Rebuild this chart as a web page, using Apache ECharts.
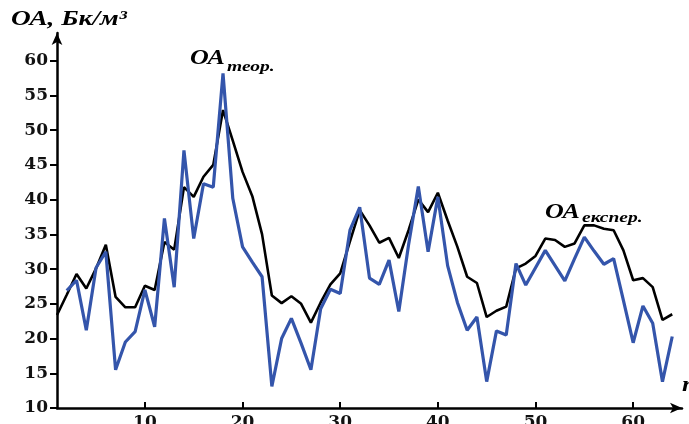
<!DOCTYPE html>
<html>
<head>
<meta charset="utf-8">
<script src="https://cdn.jsdelivr.net/npm/echarts@6/dist/echarts.min.js"></script>
<style>
html, body { margin: 0; padding: 0; background: #fff; }
#chart { width: 689px; height: 424px; }
</style>
</head>
<body>
<div id="chart"></div>
<script>
// номер вимірювання 1..64
const nums = Array.from({ length: 64 }, (_, i) => i + 1);

// чорна крива
const oaBlack = [23.4, 26.3, 29.3, 27.2, 30.1, 33.5, 26.0, 24.5, 24.5, 27.6,
  27.0, 33.9, 32.8, 41.8, 40.4, 43.3, 45.0, 52.9, 48.5, 44.0,
  40.5, 35.0, 26.2, 25.1, 26.1, 25.0, 22.3, 25.2, 27.8, 29.4,
  34.0, 38.5, 36.3, 33.8, 34.5, 31.6, 35.6, 40.0, 38.2, 41.0,
  37.0, 33.2, 28.9, 28.0, 23.1, 24.0, 24.6, 30.1, 30.8, 31.9,
  34.4, 34.2, 33.2, 33.7, 36.3, 36.3, 35.8, 35.6, 32.7, 28.4,
  28.7, 27.4, 22.7, 23.5];

// синя крива (починається з n = 2)
const oaBlue = [null, 26.9, 28.4, 21.2, 30.2, 32.5, 15.5, 19.5, 21.0, 27.0,
  21.7, 37.3, 27.4, 47.1, 34.4, 42.3, 41.8, 58.2, 40.2, 33.2,
  31.0, 28.9, 13.1, 20.0, 22.9, 19.3, 15.5, 24.3, 27.1, 26.5,
  35.6, 38.9, 28.7, 27.8, 31.3, 23.9, 33.5, 41.9, 32.5, 40.4,
  30.5, 25.2, 21.2, 23.1, 13.8, 21.1, 20.5, 30.8, 27.7, 30.2,
  32.7, 30.5, 28.3, 31.5, 34.6, 32.6, 30.7, 31.5, 25.5, 19.4,
  24.7, 22.2, 13.8, 20.3];

const xTicks = [10, 20, 30, 40, 50, 60];
const yTicks = [10, 15, 20, 25, 30, 35, 40, 45, 50, 55, 60];

const serif = '"Liberation Serif", "DejaVu Serif", serif';
const wideSerif = '"DejaVu Serif", serif';

// підписи трохи розтягнуті по горизонталі, як на оригіналі
function label(x, y, text, size) {
  return {
    type: 'text', x: x, y: y, scaleX: 1.3,
    style: { text: text, fontFamily: serif, fontStyle: 'italic', fontWeight: 'bold', fontSize: size, fill: '#000' }
  };
}

let chart = echarts.init(document.getElementById('chart'));
chart.setOption({
  animation: false,
  grid: { left: 57, right: 7, top: 33, bottom: 16, outerBoundsMode: 'none' },
  xAxis: {
    type: 'value',
    min: 1,
    max: 65,
    axisLine: { lineStyle: { color: '#000', width: 2.5 }, symbol: ['none', 'arrow'], symbolSize: [8, 12] },
    axisTick: { inside: true, length: 6, customValues: xTicks, lineStyle: { color: '#000', width: 2 } },
    axisLabel: { customValues: xTicks, color: '#111', fontFamily: wideSerif, fontWeight: 'bold', fontSize: 17, margin: 6 },
    splitLine: { show: false }
  },
  yAxis: {
    type: 'value',
    min: 10,
    max: 64,
    axisLine: { lineStyle: { color: '#000', width: 2.5 }, symbol: ['none', 'arrow'], symbolSize: [8, 12] },
    axisTick: { length: 7, customValues: yTicks, lineStyle: { color: '#000', width: 2 } },
    axisLabel: { customValues: yTicks, color: '#111', fontFamily: wideSerif, fontWeight: 'bold', fontSize: 17, margin: 9 },
    splitLine: { show: false }
  },
  series: [
    {
      name: 'black',
      type: 'line',
      symbol: 'none',
      data: nums.map((n, i) => [n, oaBlack[i]]),
      lineStyle: { color: '#000', width: 2.6 }
    },
    {
      name: 'blue',
      type: 'line',
      symbol: 'none',
      data: nums.map((n, i) => [n, oaBlue[i]]),
      lineStyle: { color: '#3455ab', width: 3.2 }
    }
  ],
  graphic: [
    label(11, 9, 'ОА, Бк/м³', 21),
    label(190, 49, 'ОА', 20),
    label(227, 60, 'теор.', 15),
    label(545, 203, 'ОА', 20),
    label(582, 211, 'експер.', 15),
    label(682, 376, 'n', 20)
  ]
});
</script>
</body>
</html>
